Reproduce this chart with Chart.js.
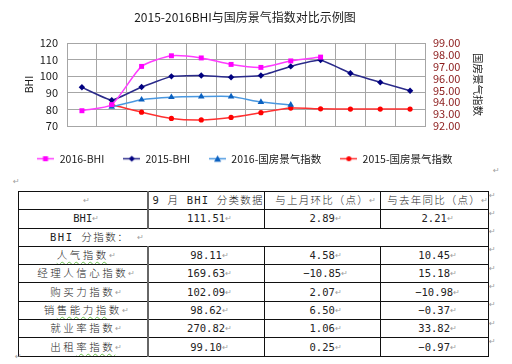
<!DOCTYPE html>
<html>
<head>
<meta charset="utf-8">
<script src="https://cdn.jsdelivr.net/npm/chart.js@4.4.1/dist/chart.umd.min.js"></script>
<style>
  body { margin:0; background:#fff; width:512px; height:364px; position:relative; overflow:hidden;
         font-family:"Noto Sans CJK SC", sans-serif; color:#1a1a1a; }
  #chart { position:absolute; left:0; top:0; }
  .pm { display:inline-block; width:0; overflow:visible; color:#a0a0a0; font-size:8px; font-family:"DejaVu Sans"; vertical-align:middle; }
  .mark { position:absolute; color:#a0a0a0; font-size:8px; font-family:"DejaVu Sans"; }
  #tbl { position:absolute; left:18px; top:191px; border-collapse:collapse; table-layout:fixed;
         font-family:"DejaVu Sans Mono","Noto Sans CJK SC",monospace; font-size:10.5px; font-weight:300; color:#222; }
  #tbl td { border:1px solid #111; padding:0; text-align:center; white-space:nowrap; overflow:hidden; height:17.3px; line-height:14px; }
  #tbl td.name { letter-spacing:2.5px; }
  #tbl td.head { letter-spacing:1.2px; }
  #tbl td.sub { text-align:left; padding-left:31px; letter-spacing:1.5px; }
  #tbl td.c1 { border-right:2px solid #666; }
  .wavy { text-decoration:underline wavy #6bbf4e; text-decoration-thickness:1px; text-underline-offset:2px; }
</style>
</head>
<body>
<canvas id="chart" width="490" height="174"></canvas>
<span class="mark" style="left:493px;top:166px">↵</span>
<span class="mark" style="left:13px;top:177px">↵</span>
<table id="tbl">
  <colgroup><col style="width:129px"><col style="width:115px"><col style="width:116px"><col style="width:108px"></colgroup>
  <tbody id="tbody"></tbody>
</table>
<span class="mark" style="left:15px;top:352px">↵</span>
<script>
// 图表数据
const months = ['1月', '2月', '3月', '4月', '5月', '6月', '7月', '8月', '9月', '10月', '11月', '12月'];
const bhi2016 = [79.2, 82.9, 105.9, 112.3, 111.0, 107.1, 105.3, 109.2, 111.5, null, null, null];
const bhi2015 = [93.3, 85.5, 93.5, 99.9, 100.4, 99.4, 100.4, 105.9, 109.7, 101.8, 96.3, 91.2];
const gf2016 = [null, 93.62, 94.22, 94.43, 94.48, 94.48, 94.02, 93.78, null, null, null, null];
const gf2015 = [null, 93.80, 93.17, 92.64, 92.51, 92.72, 93.12, 93.51, 93.45, 93.43, 93.43, 93.43];
const bhiTicks = [70, 120, 10];   // min, max, step
const gfTicks = [92, 99, 1];

// 表格数据
const tblHead = ['', '9 月 BHI 分类数据', '与上月环比（点）', '与去年同比（点）'];
const bhiRow = ['BHI', 111.51, 2.89, 2.21];
const subTitle = 'BHI 分指数：';
const subNames = ['人气指数', '经理人信心指数', '购买力指数', '销售能力指数', '就业率指数', '出租率指数'];
const subValues = [98.11, 169.63, 102.09, 98.62, 270.82, 99.10];
const subMom = [4.58, -10.85, 2.07, 6.50, 1.06, 0.25];
const subYoy = [10.45, 15.18, -10.98, -0.37, 33.82, -0.97];

const FONT = '"Noto Sans CJK SC", sans-serif';
const GRID = '#a6a6a6';

//#region 图例小图标
function legendIcon(lineColor, markColor, shape) {
  const c = document.createElement('canvas');
  c.width = 17; c.height = 9;
  const g = c.getContext('2d');
  g.strokeStyle = lineColor; g.lineWidth = 1.5;
  g.beginPath(); g.moveTo(0, 4.5); g.lineTo(17, 4.5); g.stroke();
  g.fillStyle = markColor;
  g.beginPath();
  if (shape === 'rect') g.rect(5.5, 2, 5, 5);
  else if (shape === 'rectRot') { g.moveTo(8.5, 1.5); g.lineTo(11.5, 4.5); g.lineTo(8.5, 7.5); g.lineTo(5.5, 4.5); }
  else if (shape === 'triangle') { g.moveTo(8.5, 1); g.lineTo(12, 7.5); g.lineTo(5, 7.5); }
  else g.arc(8.5, 4.5, 2.5, 0, Math.PI * 2);
  g.closePath(); g.fill();
  return c;
}
//#endregion

const series = [
  { label: '2016-BHI', data: bhi2016, line: '#ff3cff', mark: '#ff00ff', shape: 'rect', r: 3.5, axis: 'y', t: 0.2 },
  { label: '2015-BHI', data: bhi2015, line: '#2a2a8a', mark: '#000080', shape: 'rectRot', r: 3.2, axis: 'y', t: 0.1 },
  { label: '2016-国房景气指数', data: gf2016, line: '#4a98e0', mark: '#0a60c0', shape: 'triangle', r: 3.8, axis: 'y1', t: 0.2 },
  { label: '2015-国房景气指数', data: gf2015, line: '#ff3030', mark: '#ff0000', shape: 'circle', r: 2.6, axis: 'y1', t: 0.25 }
];
const icons = series.map(s => legendIcon(s.line, s.mark, s.shape));

new Chart(document.getElementById('chart'), {
  type: 'line',
  data: {
    labels: months,
    datasets: series.map(s => ({
      label: s.label,
      data: s.data,
      yAxisID: s.axis,
      borderColor: s.line,
      borderWidth: 1.5,
      backgroundColor: s.mark,
      pointBackgroundColor: s.mark,
      pointBorderColor: s.mark,
      pointBorderWidth: 0,
      pointStyle: s.shape,
      pointRadius: s.r,
      tension: s.t,
      fill: false
    }))
  },
  options: {
    responsive: false,
    animation: false,
    layout: { padding: 0 },
    font: { family: FONT },
    plugins: {
      tooltip: { enabled: false },
      title: {
        display: true,
        text: '2015-2016BHI与国房景气指数对比示例图',
        color: '#1a1a1a',
        font: { family: FONT, size: 12, weight: 'normal' },
        padding: { top: 10, bottom: 18.6 }
      },
      legend: {
        position: 'bottom',
        labels: {
          usePointStyle: true,
          pointStyleWidth: 17,
          padding: 19,
          color: '#1a1a1a',
          font: { family: FONT, size: 10.5 },
          generateLabels: chart => Chart.defaults.plugins.legend.labels.generateLabels(chart)
            .map((item, i) => Object.assign(item, { pointStyle: icons[i] }))
        }
      }
    },
    scales: {
      x: {
        offset: true,
        grid: { offset: true, color: GRID, drawTicks: false },
        border: { color: GRID },
        ticks: { padding: 8, color: '#1a1a1a', font: { family: FONT, size: 10.5 }, maxRotation: 0 },
        afterFit: s => { s.height = 8.5; }
      },
      y: {
        position: 'left',
        min: bhiTicks[0], max: bhiTicks[1],
        ticks: { stepSize: bhiTicks[2], padding: 9, color: '#1a1a1a', font: { family: FONT, size: 11 } },
        grid: { color: GRID, drawTicks: false },
        border: { color: GRID },
        title: { display: true, text: 'BHI', color: '#1a1a1a', font: { family: FONT, size: 10.5 }, padding: { top: 23 } },
        afterFit: s => { s.width = 67; }
      },
      y1: {
        position: 'right',
        min: gfTicks[0], max: gfTicks[1],
        ticks: { stepSize: gfTicks[2], autoSkip: false, padding: 8, color: '#8b1a1a',
                 font: { family: FONT, size: 11, lineHeight: 1 }, callback: v => v.toFixed(2) },
        grid: { drawOnChartArea: false, drawTicks: false },
        border: { color: GRID },
        title: { display: true, text: '国房景气指数', color: '#1a1a1a', font: { family: FONT, size: 10.5 }, padding: { top: 6 } },
        afterFit: s => { s.width = 65; }
      }
    }
  }
});

//#region 表格
const fmt = v => v.toFixed(2).replace('-', '−');
const pm = '<span class="pm">↵</span>';
const tbody = document.getElementById('tbody');
const wavy = { '人气指数': [0, 4], '销售能力指数': [1, 5], '出租率指数': [2, 5] };

function nameHtml(name) {
  const w = wavy[name];
  if (!w) return name;
  return name.slice(0, w[0]) + '<span class="wavy">' + name.slice(w[0], w[1]) + '</span>' + name.slice(w[1]);
}

let rows = [];
rows.push('<tr><td class="c1">' + pm + '</td><td class="head" style="text-align:left;padding-left:4px">' + tblHead[1] + pm +
  '</td><td class="head">' + tblHead[2] + pm + '</td><td class="head">' + tblHead[3] + pm + '</td></tr>');
rows.push('<tr><td class="c1">' + bhiRow[0] + pm + '</td><td>' + fmt(bhiRow[1]) + pm + '</td><td>' + fmt(bhiRow[2]) + pm +
  '</td><td>' + fmt(bhiRow[3]) + pm + '</td></tr>');
rows.push('<tr><td class="sub" colspan="4">' + subTitle + ' ' + pm + '</td></tr>');
subNames.forEach((n, i) => {
  rows.push('<tr><td class="c1 name">' + nameHtml(n) + pm + '</td><td>' + fmt(subValues[i]) + pm + '</td><td>' + fmt(subMom[i]) + pm +
    '</td><td>' + fmt(subYoy[i]) + pm + '</td></tr>');
});
tbody.innerHTML = rows.join('');

// 行尾标记
const trs = tbody.querySelectorAll('tr');
trs.forEach(tr => {
  const m = document.createElement('span');
  m.className = 'mark';
  m.textContent = '↵';
  m.style.left = '489px';
  m.style.top = (tr.getBoundingClientRect().top - 1) + 'px';
  document.body.appendChild(m);
});
//#endregion
</script>
</body>
</html>
